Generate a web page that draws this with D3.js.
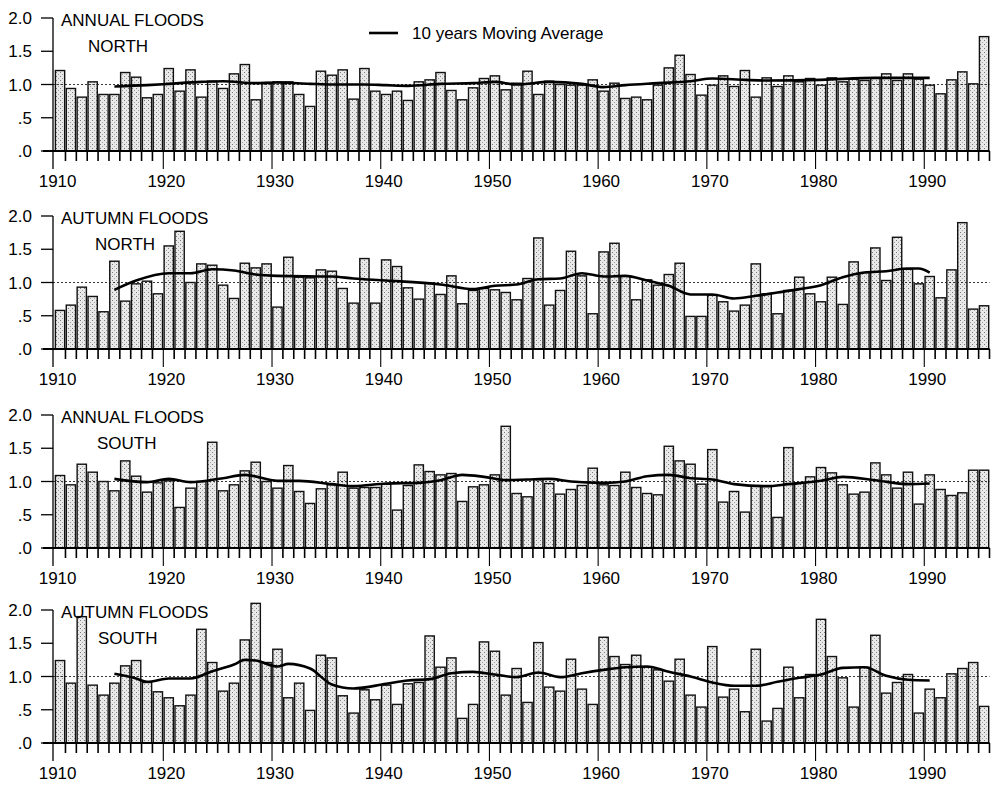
<!DOCTYPE html>
<html>
<head>
<meta charset="utf-8">
<script src="https://cdn.jsdelivr.net/npm/d3@7"></script>
<style>
  body { margin: 0; background: #fff; }
  svg { display: block; font-family: "Liberation Sans", Arial, sans-serif; }
</style>
</head>
<body>
<div id="chart"></div>
<script>
// years 1910..1995, one bar per year
var firstYear = 1910;
var lastYear = 1995;
var decadeLabels = ["1910", "1920", "1930", "1940", "1950", "1960", "1970", "1980", "1990"];
var yTicks = [0, 0.5, 1.0, 1.5, 2.0];
var yTickLabels = [".0", ".5", "1.0", "1.5", "2.0"];

var annualNorth = [
  1.21, 0.94, 0.81, 1.04, 0.85, 0.85, 1.18, 1.11, 0.80, 0.85,
  1.24, 0.90, 1.22, 0.81, 1.05, 0.94, 1.16, 1.30, 0.77, 1.03,
  1.04, 1.04, 0.85, 0.67, 1.20, 1.14, 1.22, 0.78, 1.24, 0.90,
  0.85, 0.90, 0.76, 1.04, 1.07, 1.18, 0.91, 0.77, 0.95, 1.09,
  1.13, 0.92, 1.02, 1.20, 0.85, 1.05, 1.00, 0.99, 0.99, 1.07,
  0.90, 1.02, 0.79, 0.81, 0.77, 0.99, 1.25, 1.44, 1.15, 0.84,
  0.99, 1.13, 0.97, 1.21, 0.81, 1.10, 0.97, 1.13, 1.04, 1.09,
  0.99, 1.10, 1.04, 1.08, 1.06, 1.10, 1.16, 1.06, 1.16, 1.08,
  0.99, 0.86, 1.07, 1.19, 1.01, 1.72];

var autumnNorth = [
  0.58, 0.66, 0.93, 0.79, 0.56, 1.32, 0.72, 0.98, 1.02, 0.83,
  1.55, 1.77, 1.00, 1.28, 1.26, 0.96, 0.76, 1.29, 1.22, 1.28,
  0.63, 1.38, 1.08, 1.07, 1.19, 1.17, 0.91, 0.69, 1.36, 0.69,
  1.34, 1.24, 0.92, 0.75, 0.99, 0.82, 1.10, 0.68, 0.88, 0.91,
  0.89, 0.85, 0.74, 1.06, 1.67, 0.66, 0.88, 1.47, 1.10, 0.53,
  1.46, 1.59, 1.10, 0.74, 1.04, 0.96, 1.12, 1.29, 0.49, 0.49,
  0.81, 0.71, 0.57, 0.66, 1.28, 0.83, 0.53, 0.88, 1.08, 0.83,
  0.71, 1.08, 0.67, 1.31, 1.15, 1.52, 1.03, 1.68, 1.20, 0.98,
  1.09, 0.77, 1.19, 1.90, 0.60, 0.65];

var annualSouth = [
  1.09, 0.95, 1.26, 1.14, 1.00, 0.86, 1.31, 1.08, 0.84, 0.98,
  1.01, 0.61, 0.90, 1.00, 1.59, 0.86, 0.95, 1.16, 1.29, 1.00,
  0.90, 1.24, 0.85, 0.67, 0.89, 0.95, 1.14, 0.90, 0.91, 0.91,
  0.96, 0.57, 0.94, 1.25, 1.15, 1.10, 1.12, 0.70, 0.92, 0.95,
  1.10, 1.83, 0.82, 0.77, 1.03, 0.97, 0.81, 0.88, 0.94, 1.20,
  0.95, 0.94, 1.14, 0.91, 0.82, 0.80, 1.53, 1.31, 1.26, 0.96,
  1.48, 0.69, 0.85, 0.54, 0.93, 0.93, 0.46, 1.51, 0.98, 1.07,
  1.21, 1.13, 0.95, 0.81, 0.84, 1.28, 1.10, 0.90, 1.14, 0.66,
  1.10, 0.88, 0.79, 0.83, 1.17, 1.17];

var autumnSouth = [
  1.24, 0.90, 1.90, 0.87, 0.72, 0.90, 1.16, 1.24, 0.91, 0.77,
  0.68, 0.56, 0.72, 1.71, 1.21, 0.78, 0.90, 1.55, 2.10, 1.21,
  1.41, 0.68, 0.90, 0.49, 1.32, 1.28, 0.71, 0.45, 0.80, 0.65,
  0.87, 0.58, 0.89, 0.91, 1.61, 1.14, 1.28, 0.37, 0.58, 1.52,
  1.38, 0.72, 1.12, 0.61, 1.51, 0.84, 0.78, 1.26, 0.81, 0.58,
  1.59, 1.30, 1.18, 1.32, 1.14, 1.10, 0.93, 1.26, 0.72, 0.54,
  1.45, 0.69, 0.81, 0.47, 1.41, 0.33, 0.52, 1.14, 0.68, 1.03,
  1.86, 1.30, 0.98, 0.54, 1.14, 1.62, 0.75, 0.91, 1.03, 0.45,
  0.81, 0.68, 1.04, 1.12, 1.21, 0.55];

// 10 year moving averages as [year, value]
var maAnnualNorth = [[1915, 0.97], [1918, 0.99], [1920, 1.01], [1923, 1.04], [1925, 1.05],
  [1928, 1.02], [1930, 1.03], [1933, 1.01], [1935, 1.00], [1938, 1.00], [1940, 0.99],
  [1942, 0.98], [1945, 1.01], [1948, 1.02], [1950, 1.04], [1952, 1.00], [1955, 1.04],
  [1958, 1.01], [1960, 0.96], [1962, 0.99], [1965, 1.02], [1968, 1.05], [1970, 1.09],
  [1973, 1.07], [1975, 1.06], [1980, 1.07], [1985, 1.10], [1990, 1.10]];

var maAutumnNorth = [[1915, 0.89], [1917, 1.03], [1920, 1.14], [1922, 1.14], [1924, 1.20],
  [1926, 1.18], [1928, 1.12], [1930, 1.10], [1935, 1.09], [1937, 1.06], [1940, 1.03],
  [1945, 0.97], [1948, 0.90], [1950, 0.95], [1952, 0.97], [1954, 1.05], [1956, 1.06],
  [1958, 1.14], [1960, 1.09], [1962, 1.10], [1964, 1.03], [1966, 0.95], [1968, 0.82],
  [1970, 0.82], [1972, 0.76], [1974, 0.80], [1976, 0.85], [1978, 0.90], [1980, 0.96],
  [1982, 1.08], [1984, 1.15], [1986, 1.17], [1988, 1.21], [1989, 1.21], [1990, 1.15]];

var maAnnualSouth = [[1915, 1.04], [1918, 0.99], [1920, 1.04], [1922, 0.99], [1925, 1.05],
  [1927, 1.10], [1930, 1.01], [1932, 1.01], [1935, 0.96], [1937, 0.93], [1940, 0.97],
  [1943, 0.98], [1945, 1.02], [1947, 1.10], [1949, 1.07], [1951, 1.02], [1953, 1.03],
  [1955, 1.04], [1957, 1.00], [1960, 0.98], [1962, 1.00], [1964, 1.08], [1966, 1.10],
  [1968, 1.05], [1970, 1.03], [1972, 0.96], [1975, 0.93], [1977, 0.96], [1980, 1.01],
  [1982, 1.07], [1985, 1.02], [1988, 0.96], [1990, 0.97]];

var maAutumnSouth = [[1915, 1.04], [1917, 0.97], [1918, 0.92], [1920, 0.97], [1922, 0.97],
  [1924, 1.08], [1926, 1.18], [1927, 1.25], [1928, 1.24], [1930, 1.15], [1931, 1.19],
  [1933, 1.12], [1935, 0.88], [1937, 0.82], [1940, 0.89], [1942, 0.94], [1944, 0.96],
  [1946, 1.05], [1948, 1.07], [1950, 1.03], [1952, 0.99], [1954, 1.06], [1956, 0.99],
  [1958, 1.05], [1960, 1.10], [1962, 1.14], [1964, 1.15], [1966, 1.07], [1968, 1.00],
  [1970, 0.91], [1972, 0.86], [1974, 0.86], [1976, 0.92], [1978, 0.98], [1980, 1.03],
  [1982, 1.13], [1984, 1.14], [1986, 1.01], [1988, 0.95], [1990, 0.94]];

var titlesTop = ["ANNUAL FLOODS", "AUTUMN FLOODS", "ANNUAL FLOODS", "AUTUMN FLOODS"];
var titlesSub = ["NORTH", "NORTH", "SOUTH", "SOUTH"];
var seriesList = [annualNorth, autumnNorth, annualSouth, autumnSouth];
var maList = [maAnnualNorth, maAutumnNorth, maAnnualSouth, maAutumnSouth];

var width = 994, height = 786;
var zeroY = [151, 349, 548, 743];
var subX = [88, 95, 97, 98];
var plotH = 133;
var axisX = 53;

var years = d3.range(firstYear, lastYear + 1);

var svg = d3.select("#chart").append("svg")
  .attr("width", width)
  .attr("height", height);

// stippled grey fill like the print
var pat = svg.append("defs").append("pattern")
  .attr("id", "stip")
  .attr("width", 4).attr("height", 4)
  .attr("patternUnits", "userSpaceOnUse");
pat.append("rect").attr("width", 4).attr("height", 4).attr("fill", "#e9e9e9");
pat.append("rect").attr("x", 0).attr("y", 0).attr("width", 1).attr("height", 1).attr("fill", "#7a7a7a");
pat.append("rect").attr("x", 2).attr("y", 2).attr("width", 1).attr("height", 1).attr("fill", "#a0a0a0");

var x = d3.scaleLinear().domain([1910, 1996]).range([54.6, 989.5]);
var step = x(1911) - x(1910);

seriesList.forEach(function(values, p) {
  var z = zeroY[p];
  var y = d3.scaleLinear().domain([0, 2]).range([z, z - plotH]);
  var g = svg.append("g");

  // bars
  g.selectAll("rect.bar")
    .data(values)
    .enter()
    .append("rect")
    .attr("class", "bar")
    .attr("x", function(d, i) { return x(years[i]) + 0.8; })
    .attr("width", step - 1.6)
    .attr("y", function(d) { return y(d); })
    .attr("height", function(d) { return z - y(d); })
    .attr("fill", "url(#stip)")
    .attr("stroke", "#111")
    .attr("stroke-width", 1.4);

  // dotted reference at 1.0
  g.append("line")
    .attr("x1", axisX).attr("x2", x(1996))
    .attr("y1", y(1)).attr("y2", y(1))
    .attr("stroke", "#222")
    .attr("stroke-width", 0.9)
    .attr("stroke-dasharray", "2,2");

  // moving average
  var line = d3.line()
    .x(function(d) { return x(d[0] + 0.5); })
    .y(function(d) { return y(d[1]); })
    .curve(d3.curveMonotoneX);
  g.append("path")
    .datum(maList[p])
    .attr("d", line)
    .attr("fill", "none")
    .attr("stroke", "#000")
    .attr("stroke-width", 2.6);

  // baseline
  g.append("line")
    .attr("x1", axisX - 10).attr("x2", x(1996))
    .attr("y1", z).attr("y2", z)
    .attr("stroke", "#000")
    .attr("stroke-width", 2.2);

  // year ticks below baseline
  g.selectAll("line.xt")
    .data(d3.range(firstYear + 1, lastYear + 2))
    .enter()
    .append("line")
    .attr("class", "xt")
    .attr("x1", function(d) { return x(d); })
    .attr("x2", function(d) { return x(d); })
    .attr("y1", z)
    .attr("y2", function(d) { return d % 10 === 0 ? z + 18 : z + 10; })
    .attr("stroke", "#000")
    .attr("stroke-width", function(d) { return d % 10 === 0 ? 1.1 : 1.6; });

  // decade labels
  g.selectAll("text.xl")
    .data(decadeLabels)
    .enter()
    .append("text")
    .attr("class", "xl")
    .attr("x", function(d) { return x(+d) + 3; })
    .attr("y", z + 36)
    .attr("text-anchor", "middle")
    .attr("font-size", 17)
    .text(function(d) { return d; });

  // y axis
  g.append("line")
    .attr("x1", axisX).attr("x2", axisX)
    .attr("y1", y(2)).attr("y2", z + 18)
    .attr("stroke", "#000")
    .attr("stroke-width", 1.3);

  g.selectAll("line.yt")
    .data(yTicks)
    .enter()
    .append("line")
    .attr("class", "yt")
    .attr("x1", axisX - 12).attr("x2", axisX)
    .attr("y1", function(d) { return y(d); })
    .attr("y2", function(d) { return y(d); })
    .attr("stroke", "#000")
    .attr("stroke-width", 1.3);

  g.selectAll("text.yl")
    .data(yTicks)
    .enter()
    .append("text")
    .attr("class", "yl")
    .attr("x", 32)
    .attr("y", function(d) { return y(d) + 6; })
    .attr("text-anchor", "end")
    .attr("font-size", 17)
    .text(function(d, i) { return yTickLabels[i]; });

  // panel titles
  g.append("text")
    .attr("x", 61).attr("y", z - 125)
    .attr("font-size", 17)
    .text(titlesTop[p]);
  g.append("text")
    .attr("x", subX[p]).attr("y", z - 99)
    .attr("font-size", 17)
    .text(titlesSub[p]);
});

// legend
svg.append("line")
  .attr("x1", 369).attr("x2", 398)
  .attr("y1", 33).attr("y2", 33)
  .attr("stroke", "#000")
  .attr("stroke-width", 2.6);
svg.append("text")
  .attr("x", 412).attr("y", 39)
  .attr("font-size", 17)
  .text("10 years Moving Average");
</script>
</body>
</html>
